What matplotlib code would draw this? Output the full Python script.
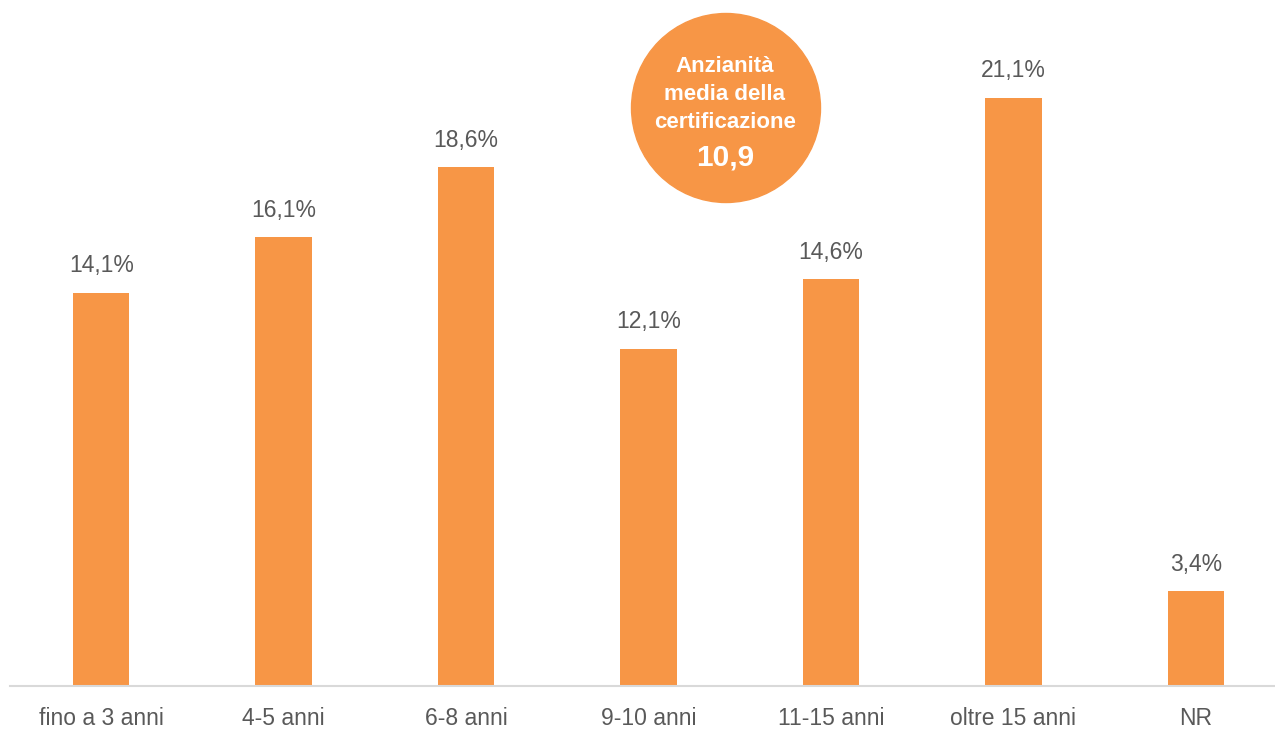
import matplotlib.pyplot as plt
from matplotlib.patches import Circle

categories = ['fino a 3 anni', '4-5 anni', '6-8 anni', '9-10 anni', '11-15 anni', 'oltre 15 anni', 'NR']
values = [14.1, 16.1, 18.6, 12.1, 14.6, 21.1, 3.4]
labels = ['14,1%', '16,1%', '18,6%', '12,1%', '14,6%', '21,1%', '3,4%']

orange = '#F79646'
grey_text = '#595959'

plt.rcParams['font.family'] = ['Liberation Sans', 'DejaVu Sans']

fig = plt.figure(figsize=(12.75, 7.29), dpi=100)
# axes spans past the right edge like in the original crop
ax = fig.add_axes([10 / 1275, 43 / 729, 1277 / 1275, 686 / 729])

x = range(len(categories))
ax.bar(x, values, width=0.31, color=orange)
for xi, v, lab in zip(x, values, labels):
    ax.text(xi, v + 0.55, lab, ha='center', va='bottom', fontsize=16.5, color=grey_text)

ax.set_xlim(-0.5, 6.5)
ax.set_ylim(0, 24.6)
ax.set_xticks(list(x))
ax.set_xticklabels(categories, fontsize=16.5, color=grey_text)
ax.tick_params(axis='x', length=0, pad=15)
ax.set_yticks([])
for s in ['top', 'right', 'left']:
    ax.spines[s].set_visible(False)
ax.spines['bottom'].set_color('#D9D9D9')
ax.spines['bottom'].set_linewidth(1.5)

# badge with the average
cx, cy, r = 7.26, 7.29 - 1.08, 0.945
fig.add_artist(Circle((cx, cy), r, transform=fig.dpi_scale_trans, color=orange))
kw = dict(ha='center', va='baseline', fontweight='bold', color='white')
fig.text(725 / 1275, 1 - 72 / 729, 'Anzianità', fontsize=16, **kw)
fig.text(725 / 1275, 1 - 100 / 729, 'media della', fontsize=16, **kw)
fig.text(725 / 1275, 1 - 128 / 729, 'certificazione', fontsize=16, **kw)
fig.text(725 / 1275, 1 - 165 / 729, '10,9', fontsize=21.5, **kw)

fig.savefig('out.png', dpi=100)
